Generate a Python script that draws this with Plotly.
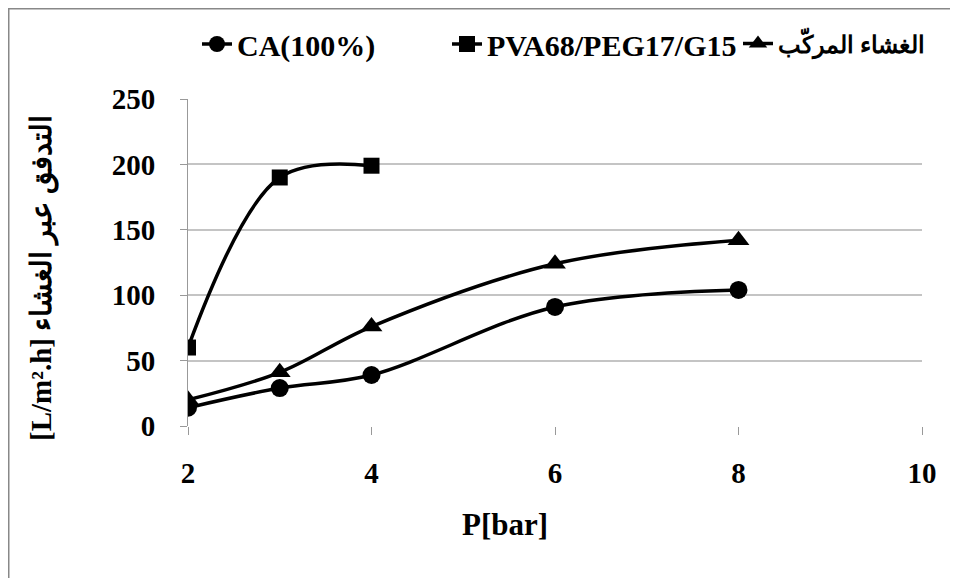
import plotly.graph_objects as go

# Data
pressure = [2, 3, 4, 6, 8]
ca_flux = [14, 29, 39, 91, 104]
pva_pressure = [2, 3, 4]
pva_flux = [60, 190, 199]
composite_flux = [20, 41, 76, 124, 142]

series_names = ["CA(100%)", "PVA68/PEG17/G15", "الغشاء المركّب"]
x_ticks = [2, 4, 6, 8, 10]
y_ticks = [0, 50, 100, 150, 200, 250]
x_title = "P[bar]"
y_title = "[L/m².h] التدفق عبر الغشاء"

FONT = "Liberation Serif"

# page body has an 8px margin: screen px = figure px + 8
OFF = 8
W, H = 950, 570
ml, mr, mt, mb = 188 - OFF, 36, 99 - OFF, 152
pw, ph = W - ml - mr, H - mt - mb

def px2paper_x(px):
    return (px - OFF - ml) / pw

def px2paper_y(py):
    return (H - mb - (py - OFF)) / ph

fig = go.Figure()
line_style = dict(color="black", width=3.5, shape="spline", smoothing=1)
fig.add_trace(go.Scatter(x=pressure, y=ca_flux, name=series_names[0], mode="lines+markers",
                         line=line_style, marker=dict(symbol="circle", size=18, color="black"),
                         legend="legend"))
fig.add_trace(go.Scatter(x=pva_pressure, y=pva_flux, name=series_names[1], mode="lines+markers",
                         line=line_style, marker=dict(symbol="square", size=16, color="black"),
                         legend="legend2"))
fig.add_trace(go.Scatter(x=pressure, y=composite_flux, name=series_names[2], mode="lines+markers",
                         line=line_style, marker=dict(symbol="triangle-up", size=19, color="black"),
                         legend="legend3"))

def make_legend(px_left, size):
    return dict(orientation="h", x=px2paper_x(px_left), xanchor="left",
                y=px2paper_y(44), yanchor="middle",
                font=dict(family=FONT, size=size, color="black", weight="bold"),
                bgcolor="rgba(0,0,0,0)", borderwidth=0)

tick_font = dict(family=FONT, size=29, color="black", weight="bold")

fig.update_layout(
    width=W, height=H,
    margin=dict(l=ml, r=mr, t=mt, b=mb, autoexpand=False),
    paper_bgcolor="white", plot_bgcolor="white",
    font=dict(family=FONT, size=29, color="black", weight="bold"),
    showlegend=True,
    legend=make_legend(197, 30),
    legend2=make_legend(447, 30),
    legend3=make_legend(738, 24),
    xaxis=dict(range=[2, 10], tickvals=x_ticks, showgrid=False, zeroline=False,
               showline=False, ticks="outside", ticklen=8, tickcolor="#999", tickwidth=1,
               ticklabelstandoff=13, tickfont=tick_font, automargin=False),
    yaxis=dict(range=[0, 250], tickvals=y_ticks, showgrid=True, gridcolor="#c4c4c4", gridwidth=2,
               zeroline=False, showline=True, linecolor="#999", linewidth=1,
               ticks="outside", ticklen=7, tickcolor="#999", tickwidth=1,
               ticklabelstandoff=19, tickfont=tick_font, automargin=False),
    annotations=[
        dict(text=y_title, textangle=-90,
             xref="paper", yref="paper", x=px2paper_x(42), y=px2paper_y(278),
             xanchor="center", yanchor="middle", showarrow=False,
             font=dict(family=FONT, size=29, color="black", weight="bold")),
        dict(text=x_title, xref="paper", yref="paper", x=px2paper_x(505), y=px2paper_y(524),
             xanchor="center", yanchor="middle", showarrow=False,
             font=dict(family=FONT, size=31, color="black", weight="bold")),
    ],
    shapes=[dict(type="rect", xref="paper", yref="paper",
                 x0=px2paper_x(8.5), x1=px2paper_x(990), y0=px2paper_y(600), y1=px2paper_y(8.5),
                 line=dict(color="#888", width=2), fillcolor="rgba(0,0,0,0)", layer="below")],
)

fig.write_html("out.html")
